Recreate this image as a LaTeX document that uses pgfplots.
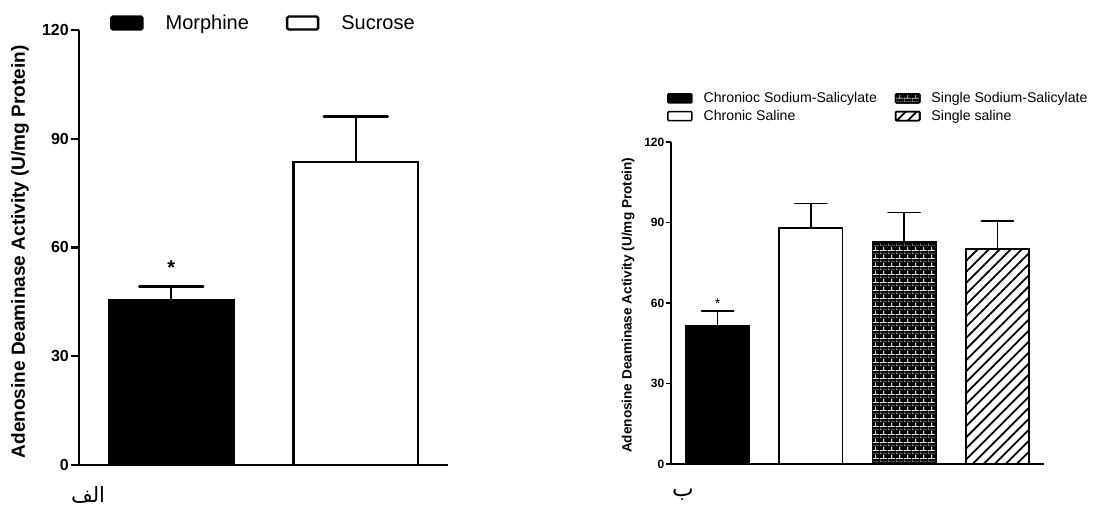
\documentclass[border=0pt]{standalone}
\usepackage{fontspec}
\setmainfont{Liberation Sans}
\newfontfamily\arabicfont[Script=Arabic]{DejaVu Sans}
\TeXXeTstate=1
\usepackage{pgfplots}
\pgfplotsset{compat=1.18}
\usetikzlibrary{patterns,patterns.meta}

% small bricks, mortar drawn in pattern colour
\pgfdeclarepatternformonly{smallbricks}{\pgfpointorigin}{\pgfqpoint{8pt}{8pt}}{\pgfqpoint{8pt}{8pt}}{
  \pgfsetlinewidth{0.9pt}
  \pgfpathmoveto{\pgfqpoint{0pt}{0pt}}\pgfpathlineto{\pgfqpoint{8pt}{0pt}}
  \pgfpathmoveto{\pgfqpoint{0pt}{4pt}}\pgfpathlineto{\pgfqpoint{8pt}{4pt}}
  \pgfpathmoveto{\pgfqpoint{0pt}{0pt}}\pgfpathlineto{\pgfqpoint{0pt}{4pt}}
  \pgfpathmoveto{\pgfqpoint{4pt}{4pt}}\pgfpathlineto{\pgfqpoint{4pt}{8pt}}
  \pgfusepath{stroke}
}

\pgfplotsset{
  leftleg/.style={legend image code/.code={
    \draw[##1, line width=2.4pt, rounded corners=1.5pt] (0pt,-6.5pt) rectangle (31pt,6.5pt);}},
  rightleg/.style={legend image code/.code={
    \draw[##1, line width=1.6pt, rounded corners=1pt] (0pt,-4.5pt) rectangle (24pt,4.5pt);}},
}

\begin{document}
\begin{tikzpicture}
\useasboundingbox (0pt,0pt) rectangle (1094pt,510pt);

% ---------------- panel a ----------------
\begin{axis}[
  at={(79pt,45pt)}, anchor=south west,
  scale only axis, width=369pt, height=435pt,
  xmin=-0.5, xmax=1.5, ymin=0, ymax=120,
  axis x line=bottom, axis y line=left,
  axis line style={-, line width=2.4pt},
  xtick=\empty, ytick={0,30,60,90,120},
  tick align=outside, major tick length=8pt,
  tick style={line width=2.4pt, black},
  /pgf/number format/assume math mode=true,
  yticklabel style={font=\fontsize{16}{18}\selectfont\bfseries, inner sep=2pt},
  ylabel={Adenosine Deaminase Activity (U/mg Protein)},
  ylabel style={font=\fontsize{19}{21}\selectfont\bfseries,
    at={(axis description cs:-0.16,0.49)}, anchor=center},
  legend columns=2, legend cell align=left,
  legend style={draw=none, fill=none, inner sep=0pt,
    at={(axis description cs:0.084,1.016)}, anchor=west,
    font=\fontsize{20}{22}\selectfont, nodes={inner sep=0pt},
    /tikz/every odd column/.append style={column sep=22pt},
    /tikz/every even column/.append style={column sep=37pt}},
  clip=false,
]
\addplot[ybar, bar width=0.675, bar shift=0pt, draw=black, fill=black,
  line width=2.6pt, leftleg,
  error bars/.cd, y dir=plus, y explicit, error mark=|,
  error bar style={line width=2.4pt, black},
  error mark options={line width=2.4pt, black, mark size=32pt, line cap=round}]
  coordinates {(0,45.5) +- (0,3.7)};
\addlegendentry{Morphine}
\addplot[ybar, bar width=0.675, bar shift=0pt, draw=black, fill=white,
  line width=2.6pt, leftleg,
  error bars/.cd, y dir=plus, y explicit, error mark=|,
  error bar style={line width=2.4pt, black},
  error mark options={line width=2.4pt, black, mark size=32pt, line cap=round}]
  coordinates {(1,83.6) +- (0,12.5)};
\addlegendentry{Sucrose}
\node[anchor=base, font=\fontsize{20}{22}\selectfont\bfseries] at (axis cs:0,52.5) {*};
\end{axis}

% ---------------- panel b ----------------
\begin{axis}[
  at={(671pt,46pt)}, anchor=south west,
  scale only axis, width=373pt, height=322pt,
  xmin=-0.5, xmax=3.5, ymin=0, ymax=120,
  axis x line=bottom, axis y line=left,
  axis line style={-, line width=1.6pt},
  xtick=\empty, ytick={0,30,60,90,120},
  tick align=outside, major tick length=5pt,
  tick style={line width=1.6pt, black},
  /pgf/number format/assume math mode=true,
  yticklabel style={font=\fontsize{12}{14}\selectfont\bfseries, inner sep=1.5pt},
  ylabel={Adenosine Deaminase Activity (U/mg Protein)},
  ylabel style={font=\fontsize{13.6}{15}\selectfont\bfseries,
    at={(axis description cs:-0.115,0.493)}, anchor=center},
  legend columns=2, legend cell align=left,
  legend style={draw=none, fill=none, inner sep=0pt,
    at={(axis description cs:-0.011,1.108)}, anchor=west,
    font=\fontsize{14.1}{16}\selectfont, nodes={inner sep=0pt},
    /tikz/every odd column/.append style={column sep=11pt},
    /tikz/every even column/.append style={column sep=18pt},
    row sep=6pt},
  clip=false,
]
\addplot[ybar, bar width=0.68, bar shift=0pt, draw=black, fill=black,
  line width=1.8pt, rightleg,
  error bars/.cd, y dir=plus, y explicit, error mark=|,
  error bar style={line width=1.6pt, black},
  error mark options={line width=1.6pt, black, mark size=16pt, line cap=round}]
  coordinates {(0,51.4) +- (0,5.6)};
\addlegendentry{Chronioc Sodium-Salicylate}
\addplot[ybar, bar width=0.68, bar shift=0pt, draw=black, fill=black,
  postaction={pattern=smallbricks, pattern color=black!15},
  line width=1.8pt, rightleg,
  error bars/.cd, y dir=plus, y explicit, error mark=|,
  error bar style={line width=1.6pt, black},
  error mark options={line width=1.6pt, black, mark size=16pt, line cap=round}]
  coordinates {(2,82.6) +- (0,11.1)};
\addlegendentry{Single Sodium-Salicylate}
\addplot[ybar, bar width=0.68, bar shift=0pt, draw=black, fill=white,
  line width=1.8pt, rightleg,
  error bars/.cd, y dir=plus, y explicit, error mark=|,
  error bar style={line width=1.6pt, black},
  error mark options={line width=1.6pt, black, mark size=16pt, line cap=round}]
  coordinates {(1,88.0) +- (0,9.1)};
\addlegendentry{Chronic Saline}
\addplot[ybar, bar width=0.68, bar shift=0pt, draw=black, fill=white,
  postaction={pattern={Lines[angle=45, distance=7.8pt, line width=1.8pt]}, pattern color=black},
  line width=1.8pt, rightleg,
  error bars/.cd, y dir=plus, y explicit, error mark=|,
  error bar style={line width=1.6pt, black},
  error mark options={line width=1.6pt, black, mark size=16pt, line cap=round}]
  coordinates {(3,80.0) +- (0,10.5)};
\addlegendentry{Single saline}
\node[anchor=base, font=\fontsize{14}{16}\selectfont] at (axis cs:0,58) {*};
\end{axis}

\node[font=\arabicfont\fontsize{21}{23}\selectfont] at (88pt,15pt) {\beginR الف\endR};
\node[font=\arabicfont\fontsize{23}{25}\selectfont] at (683pt,15pt) {\beginR ب\endR};
\end{tikzpicture}
\end{document}
